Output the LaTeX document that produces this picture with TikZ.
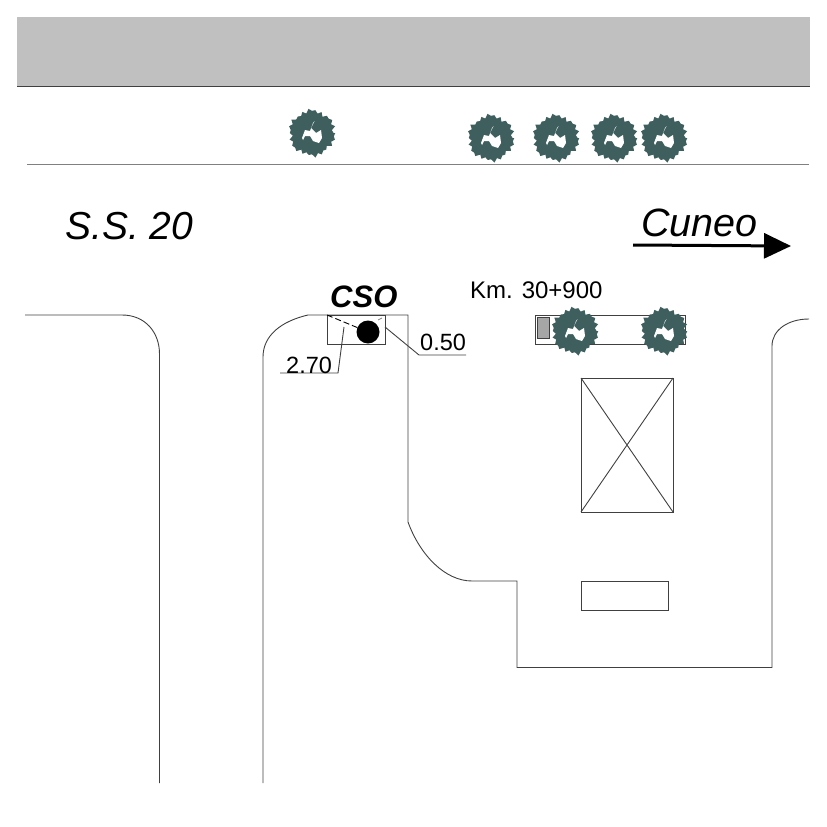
\documentclass[tikz,border=0pt]{standalone}
\usepackage{fontspec}
\setmainfont{Liberation Sans}
\usetikzlibrary{arrows.meta}
\definecolor{treegreen}{HTML}{3F5F5F}
\definecolor{bandgrey}{HTML}{C0C0C0}
\definecolor{linegrey}{HTML}{404040}
\newcommand{\fs}[1]{\fontsize{#1}{#1}\selectfont}
\tikzset{
  plan/.style={draw=linegrey,line width=0.9pt},
  lbl/.style={anchor=base west,inner sep=0pt,text=black},
  treepic/.pic={
    \fill[treegreen] plot[samples=45,domain=0:44] ({\x*8.18182}:{22+1.3*cos(\x*180)+1.0*sin(\x*47)+0.7*sin(\x*113)});
    \fill[white] (-10,5)--(-7,-3)--(-2,-2)--(1,-10)--(2.5,-12)--(-1,-5)--(4,0)--(9,-3)--(10,5)--(7,10)--(1,8)--(-2,3)--(-7,3)--(-9,7)--cycle;
  }
}
\begin{document}
\begin{tikzpicture}[x=1pt,y=-1pt]
\useasboundingbox (0,0) rectangle (827,827);
% band
\fill[bandgrey] (17,17) rectangle (810,86);
\draw[draw=linegrey,line width=0.9pt] (17,86) -- (810,86);
\draw[draw=gray,line width=0.9pt] (27,164) -- (809,164);
% roads
\draw[plan] (25,315) -- (122,315) .. controls (145,315) and (159.5,332) .. (159.5,354) -- (159.5,783);
\draw[plan] (263,783) -- (263,357) .. controls (263,335) and (282,321) .. (308,315) -- (408,315) -- (408,522)
  .. controls (420,555) and (445,581) .. (472,581) -- (517,581) -- (517,667.5) -- (772,667.5) -- (772,346)
  .. controls (772,330) and (788,319) .. (809,319);
% buildings
\draw[plan] (535,315) rectangle (685,344);
\draw[plan,fill=gray!70] (537,317) rectangle (549,338);
\draw[plan] (581,378) rectangle (673,512);
\draw[plan] (581,378) -- (673,512) (673,378) -- (581,512);
\draw[plan] (581,581) rectangle (668,610);
% trees
\foreach \p in {(312,133),(491,138),(556,138),(614,138),(664,138),(575,331),(664,331)}
  \pic at \p {treepic};
% CSO marker
\draw[plan] (327,315) rectangle (385,344);
\node[circle,fill=black,minimum size=23pt,inner sep=0pt] (cso) at (368,332) {};
\coordinate (d0) at (327,315);
\draw[black,line width=0.9pt,dash pattern=on 6pt off 3pt] (d0) -- (cso);
\draw[gray,line width=0.7pt] (378,320) -- (382,318);
% leaders
\coordinate (a1) at (344,327); \coordinate (a2) at (338,373); \coordinate (a3) at (280,373);
\draw[plan] (a1) -- (a2) -- (a3);
\coordinate (b1) at (385,327); \coordinate (b2) at (419,355); \coordinate (b3) at (466,355);
\draw[plan] (b1) -- (b2) -- (b3);
% arrow
\coordinate (c1) at (633,245); \coordinate (c2) at (791,246);
\draw[black,line width=3pt,-{Triangle[length=27pt,width=25pt]}] (c1) -- (c2);
% labels
\node[lbl] (ss) at (65,239) {\fs{39}\itshape S.S. 20};
\node[lbl] (cuneo) at (641,236) {\fs{39.5}\itshape Cuneo};
\node[lbl] (csolbl) at (330,307) {\fs{31}\bfseries\itshape CSO};
\node[lbl] (km) at (470,298) {\fs{24}Km. 30+900};
\node[lbl] (v1) at (420,350) {\fs{23.5}0.50};
\node[lbl] (v2) at (286,373) {\fs{23.5}2.70};
\end{tikzpicture}
\end{document}
